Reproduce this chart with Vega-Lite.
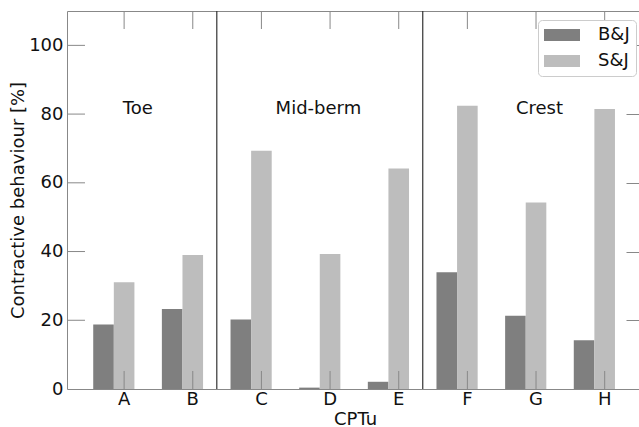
{
  "$schema": "https://vega.github.io/schema/vega-lite/v6.json",
  "width": 572,
  "height": 378,
  "autosize": {"type": "none"},
  "padding": {"left": 67, "top": 11, "right": 0, "bottom": 38},
  "config": {
    "view": {"stroke": null},
    "font": "DejaVu Sans",
    "axis": {
      "labelFont": "DejaVu Sans",
      "titleFont": "DejaVu Sans",
      "labelFontSize": 18,
      "titleFontSize": 18,
      "labelColor": "#111",
      "titleColor": "#111",
      "titleFontWeight": "normal",
      "domainColor": "#888",
      "tickColor": "#888",
      "grid": false,
      "zindex": 1
    }
  },
  "layer": [
    {
      "data": {
        "values": [
          {"cptu": "A", "method": "B&J", "value": 18.8},
          {"cptu": "A", "method": "S&J", "value": 31.1},
          {"cptu": "B", "method": "B&J", "value": 23.3},
          {"cptu": "B", "method": "S&J", "value": 39.0},
          {"cptu": "C", "method": "B&J", "value": 20.2},
          {"cptu": "C", "method": "S&J", "value": 69.3},
          {"cptu": "D", "method": "B&J", "value": 0.4},
          {"cptu": "D", "method": "S&J", "value": 39.3},
          {"cptu": "E", "method": "B&J", "value": 2.1},
          {"cptu": "E", "method": "S&J", "value": 64.2},
          {"cptu": "F", "method": "B&J", "value": 34.0},
          {"cptu": "F", "method": "S&J", "value": 82.4},
          {"cptu": "G", "method": "B&J", "value": 21.3},
          {"cptu": "G", "method": "S&J", "value": 54.3},
          {"cptu": "H", "method": "B&J", "value": 14.2},
          {"cptu": "H", "method": "S&J", "value": 81.5}
        ]
      },
      "mark": {"type": "bar"},
      "encoding": {
        "x": {
          "field": "cptu",
          "type": "nominal",
          "scale": {"paddingInner": 0, "paddingOuter": 0.166, "align": 1},
          "axis": {
            "orient": "bottom",
            "title": "CPTu",
            "labelAngle": 0,
            "ticks": false,
            "labelPadding": 1,
            "titleX": 288,
            "titleY": 30,
            "titleBaseline": "middle"
          }
        },
        "xOffset": {
          "field": "method",
          "scale": {"paddingInner": 0, "paddingOuter": 0.6667, "align": 0.125}
        },
        "y": {
          "field": "value",
          "type": "quantitative",
          "scale": {"domain": [0, 110], "nice": false},
          "axis": {
            "orient": "left",
            "title": "Contractive behaviour [%]",
            "values": [0, 20, 40, 60, 80, 100],
            "ticks": false,
            "labelPadding": 4,
            "titleX": -49,
            "titleY": 189,
            "titleBaseline": "middle"
          }
        },
        "color": {
          "field": "method",
          "type": "nominal",
          "scale": {"domain": ["B&J", "S&J"], "range": ["#7f7f7f", "#bdbdbd"]},
          "legend": {
            "orient": "none",
            "legendX": 471,
            "legendY": 9,
            "title": null,
            "symbolType": "M-3,-1L3,-1L3,1L-3,1Z",
            "symbolSize": 144,
            "symbolOffset": 9,
            "symbolStrokeWidth": 0,
            "labelFontSize": 18,
            "labelFont": "DejaVu Sans",
            "labelColor": "#111",
            "fillColor": "white",
            "strokeColor": "#cccccc",
            "cornerRadius": 4,
            "padding": 6,
            "rowPadding": 8,
            "labelOffset": 27
          }
        }
      }
    },
    {
      "data": {
        "values": [
          {"zone": "Toe", "pos": 0.2, "value": 81.5},
          {"zone": "Mid-berm", "pos": 2.83, "value": 81.5},
          {"zone": "Crest", "pos": 6.05, "value": 81.5}
        ]
      },
      "mark": {"type": "text", "fontSize": 18, "font": "DejaVu Sans", "color": "#111", "baseline": "middle", "align": "center"},
      "encoding": {
        "x": {
          "field": "pos",
          "type": "quantitative",
          "scale": {"domain": [-0.832, 7.5], "nice": false, "zero": false},
          "axis": null
        },
        "y": {
          "field": "value",
          "type": "quantitative",
          "scale": {"domain": [0, 110], "nice": false},
          "axis": null
        },
        "text": {"field": "zone"}
      }
    },
    {
      "layer": [
        {
          "data": {"values": [{"pos": 1.35}, {"pos": 4.35}]},
          "mark": {"type": "rule", "color": "#333", "strokeWidth": 1.2},
          "encoding": {
            "x": {
              "field": "pos",
              "type": "quantitative",
              "scale": {"domain": [-0.832, 7.5], "nice": false, "zero": false},
              "axis": {"orient": "top", "title": null, "labels": false, "ticks": false, "domain": true}
            }
          }
        },
        {
          "data": {
            "values": [
              {"pos": 0}, {"pos": 1}, {"pos": 2}, {"pos": 3},
              {"pos": 4}, {"pos": 5}, {"pos": 6}, {"pos": 7}
            ]
          },
          "mark": {"type": "rule", "color": "#888", "strokeWidth": 1},
          "encoding": {
            "x": {
              "field": "pos",
              "type": "quantitative",
              "scale": {"domain": [-0.832, 7.5], "nice": false, "zero": false},
              "axis": {"orient": "top", "title": null, "labels": false, "ticks": false, "domain": true}
            },
            "y": {
              "datum": 0,
              "type": "quantitative",
              "scale": {"domain": [0, 110], "nice": false},
              "axis": {"orient": "right", "title": null, "values": [20, 40, 60, 80, 100], "labels": false, "domain": false, "tickSize": -13}
            },
            "y2": {"datum": 5.24}
          }
        },
        {
          "data": {
            "values": [
              {"pos": 0}, {"pos": 1}, {"pos": 2}, {"pos": 3},
              {"pos": 4}, {"pos": 5}, {"pos": 6}, {"pos": 7}
            ]
          },
          "mark": {"type": "rule", "color": "#888", "strokeWidth": 1},
          "encoding": {
            "x": {
              "field": "pos",
              "type": "quantitative",
              "scale": {"domain": [-0.832, 7.5], "nice": false, "zero": false},
              "axis": {"orient": "top", "title": null, "labels": false, "ticks": false, "domain": true}
            },
            "y": {
              "datum": 104.76,
              "type": "quantitative",
              "scale": {"domain": [0, 110], "nice": false},
              "axis": {"orient": "right", "title": null, "values": [20, 40, 60, 80, 100], "labels": false, "domain": false, "tickSize": -13}
            },
            "y2": {"datum": 110}
          }
        },
        {
          "data": {
            "values": [
              {"level": 20}, {"level": 40}, {"level": 60}, {"level": 80}, {"level": 100}
            ]
          },
          "mark": {"type": "rule", "color": "#888", "strokeWidth": 1},
          "encoding": {
            "x": {
              "datum": -0.832,
              "type": "quantitative",
              "scale": {"domain": [-0.832, 7.5], "nice": false, "zero": false},
              "axis": {"orient": "top", "title": null, "labels": false, "ticks": false, "domain": true}
            },
            "x2": {"datum": -0.57},
            "y": {
              "field": "level",
              "type": "quantitative",
              "scale": {"domain": [0, 110], "nice": false},
              "axis": {"orient": "right", "title": null, "values": [20, 40, 60, 80, 100], "labels": false, "domain": false, "tickSize": -13}
            }
          }
        }
      ]
    }
  ],
  "resolve": {"scale": {"x": "independent", "y": "independent"}}
}
